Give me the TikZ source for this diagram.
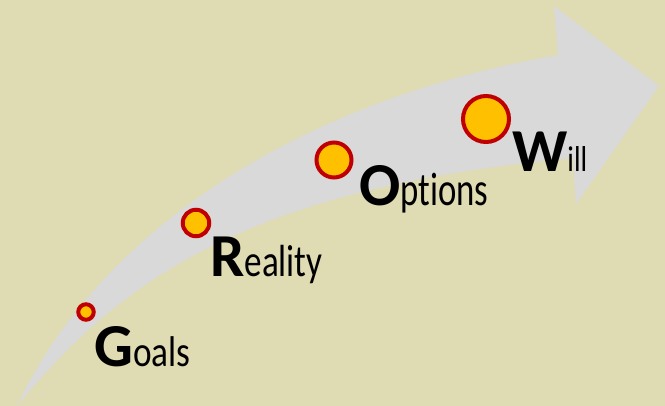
\documentclass[tikz,border=0pt]{standalone}
\usepackage{fontspec}
\setmainfont{Carlito}[Ligatures={NoCommon,NoContextual,NoRare}]
\definecolor{bgkhaki}{HTML}{DFDBB3}
\definecolor{arrowgrey}{HTML}{D9D9D9}
\definecolor{dotfill}{HTML}{FFC000}
\definecolor{dotline}{HTML}{C00000}
\newcommand{\grwword}[4]{{\fontsize{61}{61}\selectfont\bfseries #1}{\fontsize{#2}{#2}\selectfont\scalebox{#3}[1]{#4}}}
\begin{document}
\begin{tikzpicture}[x=1pt,y=-1pt,
  dot/.style={circle,draw=dotline,fill=dotfill,line width=4pt,inner sep=0pt},
  word/.style={anchor=base west,inner sep=0pt,text=black}]
\useasboundingbox (0,0) rectangle (665,406);
\fill[bgkhaki] (0,0) rectangle (665,406);
% curved arrow
\fill[arrowgrey] (17,406) .. controls (100,230) and (300,100) .. (558,55)
  -- (554,6) -- (659,86) -- (576,204) -- (573,158)
  .. controls (250,188) and (122,278) .. (17,406) -- cycle;
% dots
\node[dot,minimum size=15.5pt] (g) at (86,312) {};
\node[dot,minimum size=26.5pt] (r) at (196,223) {};
\node[dot,minimum size=35pt] (o) at (334,160) {};
\node[dot,minimum size=46pt] (w) at (486,119) {};
% words
\node[word] (goals) at (94,367) {\grwword{G}{43}{0.82}{oals}};
\node[word] (reality) at (210,277) {\grwword{R}{45}{0.78}{eality}};
\node[word] (options) at (359,206) {\grwword{O}{47}{0.74}{p{}t{}i{}ons}};
\node[word] (will) at (512,172) {\grwword{W}{36}{0.8}{ill}};
\end{tikzpicture}
\end{document}
